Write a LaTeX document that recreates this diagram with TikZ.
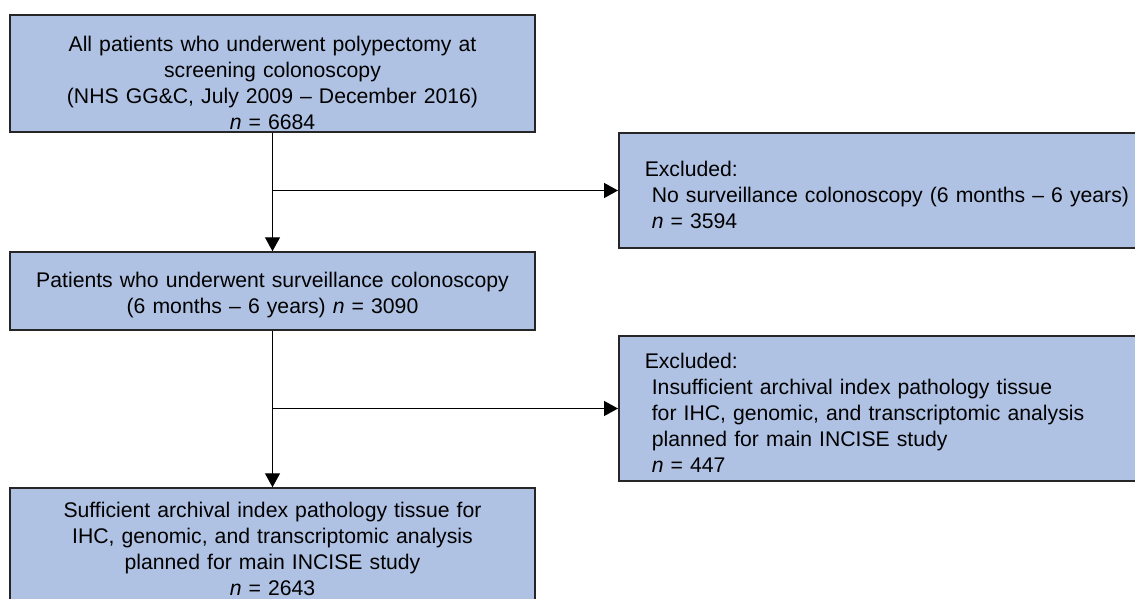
\documentclass[tikz,border=0pt]{standalone}
\usepackage{fontspec}
\setmainfont{Liberation Sans}
\usepackage{tikz}
\usetikzlibrary{positioning, arrows.meta}
\definecolor{BoxFill}{RGB}{175, 194, 228}
\definecolor{BoxEdge}{RGB}{38, 38, 38}

\tikzset{
  flowbox/.style={draw=BoxEdge, fill=BoxFill, line width=0.75pt, inner sep=0pt,
    align=center, text width=262.5pt, font=\fontsize{10.6}{13}\selectfont},
  exclbox/.style={flowbox, align=left, text width=250pt, inner xsep=13pt},
  textdrop/.style={execute at begin node={\rule{0pt}{#1}}},
  flowarrow/.style={line width=0.65pt, draw=black, -{Triangle[length=7pt, width=7.5pt]}}
}

\begin{document}
\begin{tikzpicture}[x=0.5pt, y=-0.5pt]
    \clip (0,0) rectangle (1135,599);
    \fill[white] (0,0) rectangle (1135,599);

    % Main column
    \node[flowbox, minimum height=58.5pt, textdrop=16.8pt] (allpatients) at (272.5, 73.5)
      {All patients who underwent polypectomy at\\ screening colonoscopy\\
       (NHS GG\&C, July 2009 – December 2016)\\ \textit{n} = 6684};
    \node[flowbox, minimum height=39pt, textdrop=11.3pt] (surveillance) at (272.5, 291)
      {Patients who underwent surveillance colonoscopy\\ (6 months – 6 years) \textit{n} = 3090};
    \node[flowbox, minimum height=58.5pt, textdrop=10.3pt] (sufficient) at (272.5, 546.5)
      {Sufficient archival index pathology tissue for\\ IHC, genomic, and transcriptomic analysis\\
       planned for main INCISE study\\ \textit{n} = 2643};

    % Exclusions
    \node[exclbox, minimum height=57.5pt, textdrop=12pt, anchor=west] (exclnosurv) at (618, 190.5)
      {Excluded:\\ \ No surveillance colonoscopy (6 months – 6 years)\\ \ \textit{n} = 3594};
    \node[exclbox, minimum height=72.5pt, textdrop=12.3pt, anchor=west] (exclinsuff) at (618, 408.5)
      {Excluded:\\ \ Insufficient archival index pathology tissue\\
       \ for IHC, genomic, and transcriptomic analysis\\ \ planned for main INCISE study\\ \ \textit{n} = 447};

    % Connectors
    \draw[flowarrow] (allpatients) -- (surveillance);
    \draw[flowarrow] (surveillance) -- (sufficient);
    \draw[flowarrow] (allpatients.south |- exclnosurv.west) -- (exclnosurv.west);
    \draw[flowarrow] (surveillance.south |- exclinsuff.west) -- (exclinsuff.west);
\end{tikzpicture}
\end{document}
